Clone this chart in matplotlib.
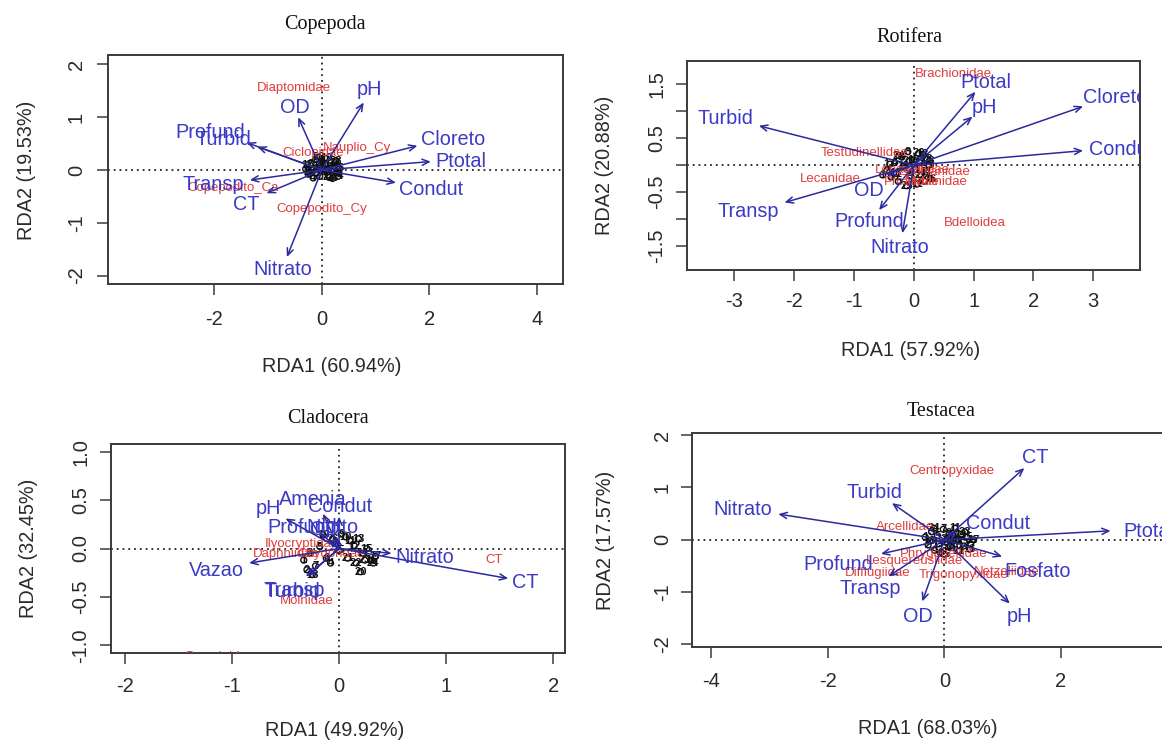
import matplotlib
matplotlib.use("Agg")
import matplotlib.pyplot as plt

W, H = 1162, 742
SANS = ["Liberation Sans", "DejaVu Sans"]
SERIF = ["Liberation Serif", "DejaVu Serif"]
plt.rcParams['font.family'] = SANS

BLUE_TXT = '#3a3ac6'
ARROW = '#2a2a9e'
RED = '#e03c3c'
AXC = '#3a3a3a'

# ---------------- Copepoda ----------------
cop_env = ["pH", "OD", "Profund", "Turbid", "Cloreto", "Ptotal", "Condut", "Transp", "CT", "Nitrato"]
cop_env_x = [0.78, -0.44, -1.40, -1.20, 1.78, 2.03, 1.38, -1.34, -1.03, -0.65]
cop_env_y = [1.28, 1.00, 0.52, 0.44, 0.46, 0.16, -0.24, -0.19, -0.44, -1.65]
cop_lab_x = [0.88, -0.51, -2.07, -1.83, 2.44, 2.58, 2.03, -2.03, -1.41, -0.73]
cop_lab_y = [1.52, 1.19, 0.72, 0.57, 0.58, 0.17, -0.37, -0.27, -0.65, -1.89]
cop_spp = ["Diaptomidae", "Ciclopidae", "Nauplio_Cy", "Copepodito_Ca", "Copepodito_Cy"]
cop_spp_x = [-0.51, -0.16, 0.66, -1.65, -0.01]
cop_spp_y = [1.56, 0.32, 0.41, -0.35, -0.73]
cop_site_x = [-0.30, -0.25, -0.20, -0.16, -0.12, -0.08, -0.04, 0.00, 0.04, 0.08, 0.12, 0.16, 0.20, 0.24,
              0.28, 0.31, -0.27, -0.18, -0.10, -0.02, 0.06, 0.14, 0.22, 0.30, -0.22, -0.06, 0.10, 0.26]
cop_site_y = [0.02, -0.08, 0.12, -0.15, 0.20, 0.05, -0.12, 0.16, -0.03, 0.22, -0.10, 0.08, -0.16, 0.14,
              -0.05, 0.04, 0.10, 0.00, -0.06, 0.08, 0.12, -0.14, 0.02, -0.12, -0.04, 0.24, 0.00, 0.18]
cop_xticks = [-2, 0, 2, 4]
cop_yticks = [-2, -1, 0, 1, 2]
cop_yticklabels = ["-2", "-1", "0", "1", "2"]

# ---------------- Rotifera ----------------
rot_env = ["Turbid", "Transp", "Ptotal", "pH", "Cloreto", "Condut", "OD", "Profund", "Nitrato"]
rot_env_x = [-2.59, -2.16, 1.03, 0.98, 2.83, 2.83, -0.46, -0.58, -0.19]
rot_env_y = [0.73, -0.69, 1.36, 0.90, 1.09, 0.27, -0.18, -0.83, -1.26]
rot_lab_x = [-3.14, -2.77, 1.20, 1.18, 3.36, 3.46, -0.75, -0.75, -0.23]
rot_lab_y = [0.86, -0.86, 1.53, 1.07, 1.26, 0.30, -0.46, -1.04, -1.52]
rot_spp = ["Brachionidae", "Testudinellidae", "Lecanidae", "Bdelloidea", "Lepadellidae",
           "Euchlanidae", "Proalidae", "Mytilinidae"]
rot_spp_x = [0.66, -0.83, -1.39, 1.02, -0.02, 0.34, -0.04, 0.38]
rot_spp_y = [1.69, 0.23, -0.26, -1.07, -0.09, -0.12, -0.31, -0.31]
rot_site_x = [-0.52, -0.45, -0.38, -0.32, -0.26, -0.20, -0.15, -0.10, -0.05, 0.00, 0.05, 0.10, 0.15, 0.20,
              0.25, 0.28, -0.40, -0.30, -0.18, -0.08, 0.02, 0.12, 0.22, -0.25, -0.12, 0.08, 0.18, 0.26]
rot_site_y = [-0.18, -0.10, -0.22, 0.05, -0.30, 0.15, -0.05, 0.25, -0.20, 0.10, -0.35, 0.05, 0.20, -0.12,
              0.00, -0.25, 0.02, -0.15, -0.02, 0.08, -0.08, -0.18, 0.12, 0.18, -0.38, 0.22, -0.30, 0.08]
rot_xticks = [-3, -2, -1, 0, 1, 2, 3]
rot_yticks = [-1.5, -1.0, -0.5, 0.0, 0.5, 1.0, 1.5]
rot_yticklabels = ["-1.5", "", "-0.5", "", "0.5", "", "1.5"]

# ---------------- Cladocera ----------------
cla_env = ["CT", "Nitrato", "Vazao", "pH", "Amenia", "Condut", "Profund", "OD", "Nitrito", "Turbid", "Transp"]
cla_env_x = [1.58, 0.49, -0.84, -0.50, -0.15, 0.00, -0.18, -0.10, -0.03, -0.31, -0.29]
cla_env_y = [-0.31, -0.05, -0.15, 0.31, 0.36, 0.33, 0.16, 0.10, 0.12, -0.29, -0.28]
cla_lab_x = [1.74, 0.80, -1.15, -0.66, -0.25, 0.01, -0.34, -0.13, -0.06, -0.44, -0.42]
cla_lab_y = [-0.35, -0.09, -0.23, 0.41, 0.51, 0.43, 0.22, 0.20, 0.22, -0.44, -0.43]
cla_spp = ["Ilyocryptidae", "Daphniidae", "Chydoridae", "Moinidae", "CT", "Bosminidae"]
cla_spp_x = [-0.35, -0.49, -0.07, -0.30, 1.45, -1.11]
cla_spp_y = [0.05, -0.06, -0.06, -0.54, -0.12, -1.125]
cla_site_x = [-0.33, -0.30, -0.27, -0.08, -0.18, -0.12, -0.22, -0.03, 0.02, 0.06, 0.10, 0.14, 0.18, 0.22,
              0.26, 0.30, 0.34, -0.25, -0.15, 0.20, 0.08, 0.16, 0.24, 0.32, 0.00, -0.06]
cla_site_y = [-0.12, -0.22, -0.05, -0.15, 0.02, -0.10, -0.18, 0.05, 0.15, 0.12, 0.08, 0.03, 0.10, -0.05,
              0.00, -0.12, -0.08, -0.27, 0.14, -0.24, -0.10, -0.15, -0.12, -0.15, -0.02, 0.10]
cla_xticks = [-2, -1, 0, 1, 2]
cla_yticks = [-1.0, -0.5, 0.0, 0.5, 1.0]
cla_yticklabels = ["-1.0", "-0.5", "0.0", "0.5", "1.0"]

# ---------------- Testacea ----------------
tes_env = ["CT", "Turbid", "Nitrato", "Condut", "Ptotal", "Fosfato", "pH", "OD", "Transp", "Profund"]
tes_env_x = [1.37, -0.90, -2.85, 0.22, 2.85, 0.99, 1.12, -0.38, -0.96, -1.09]
tes_env_y = [1.37, 0.70, 0.49, 0.17, 0.17, -0.32, -1.22, -1.18, -0.70, -0.27]
tes_lab_x = [1.55, -1.20, -3.46, 0.92, 3.50, 1.60, 1.29, -0.45, -1.28, -1.82]
tes_lab_y = [1.58, 0.90, 0.57, 0.31, 0.16, -0.61, -1.46, -1.46, -0.94, -0.48]
tes_spp = ["Centropyxidae", "Arcellidae", "Phryganellidae", "Lesquereusiidae", "Difflugiidae",
           "Trigonopyxidae", "Netzeliidae"]
tes_spp_x = [0.13, -0.67, -0.02, -0.51, -1.15, 0.33, 1.07]
tes_spp_y = [1.32, 0.24, -0.27, -0.41, -0.64, -0.68, -0.62]
tes_site_x = [-0.33, -0.28, -0.22, -0.17, -0.12, -0.07, -0.02, 0.03, 0.08, 0.13, 0.18, 0.23, 0.28, 0.33,
              0.38, 0.43, 0.50, -0.25, -0.10, 0.05, 0.15, 0.25, 0.35, -0.18, 0.00, 0.20, 0.45, 0.10]
tes_site_y = [0.05, -0.10, 0.15, -0.20, 0.08, -0.25, 0.20, -0.05, 0.12, -0.15, 0.22, -0.02, 0.10, -0.12,
              0.05, -0.18, 0.00, -0.02, -0.08, 0.02, 0.08, -0.22, 0.15, 0.22, -0.28, 0.00, -0.08, -0.12]
tes_xticks = [-4, -2, 0, 2]
tes_yticks = [-2, -1, 0, 1, 2]
tes_yticklabels = ["-2", "-1", "0", "1", "2"]

fig = plt.figure(figsize=(W / 100, H / 100), dpi=100)


def px_rect(x0, y0, x1, y1):
    return [x0 / W, 1 - y1 / H, (x1 - x0) / W, (y1 - y0) / H]


def ftext(x, y, s, **kw):
    fig.text(x / W, 1 - y / H, s, ha='center', va='center', **kw)


def panel(rect, xlim, ylim, xticks, yticks, yticklabels, env, ex, ey, lx, ly,
          spp, sx, sy, site_x, site_y, xpad, ypad):
    ax = fig.add_axes(rect)
    ax.set_xlim(*xlim)
    ax.set_ylim(*ylim)
    ax.axhline(0, color='#222222', ls=(0, (1, 2.2)), lw=1.3, zorder=1)
    ax.axvline(0, color='#222222', ls=(0, (1, 2.2)), lw=1.3, zorder=1)
    ax.scatter(site_x, site_y, s=18, facecolors='none', edgecolors='#111111', lw=1.0, zorder=2)
    for i, (x, y) in enumerate(zip(site_x, site_y)):
        ax.text(x, y, str(i + 1), fontsize=8, fontweight='bold', color='#111111',
                ha='center', va='center', zorder=2, clip_on=True)
    for name, x, y in zip(spp, sx, sy):
        ax.text(x, y, name, fontsize=9.5, color=RED, ha='center', va='center', zorder=3, clip_on=True)
    for x, y in zip(ex, ey):
        ax.annotate('', xy=(x, y), xytext=(0, 0),
                    arrowprops=dict(arrowstyle='->,head_length=0.5,head_width=0.22', color=ARROW,
                                    lw=1.1, shrinkA=0, shrinkB=0), zorder=4)
    for name, x, y in zip(env, lx, ly):
        ax.text(x, y, name, fontsize=14.3, color=BLUE_TXT, ha='center', va='center', zorder=5,
                clip_on=True)
    ax.set_xticks(xticks)
    ax.set_xticklabels([str(t) for t in xticks])
    ax.set_yticks(yticks)
    ax.set_yticklabels(yticklabels, rotation=90, va='center')
    ax.tick_params(direction='out', length=8, width=1.1, color=AXC, labelsize=14.5,
                   labelcolor='#2a2a2a')
    ax.tick_params(axis='x', pad=xpad)
    ax.tick_params(axis='y', pad=ypad)
    for sp in ax.spines.values():
        sp.set_color(AXC)
        sp.set_linewidth(1.4)
    return ax


# Copepoda
panel(px_rect(108, 55, 563, 284), (-3.98, 4.49), (-2.16, 2.18), cop_xticks, cop_yticks, cop_yticklabels,
      cop_env, cop_env_x, cop_env_y, cop_lab_x, cop_lab_y, cop_spp, cop_spp_x, cop_spp_y,
      cop_site_x, cop_site_y, 10.5, 8)
ftext(325, 25, "Copepoda", fontsize=14.5, family=SERIF, color='#111111')
ftext(332, 367, "RDA1 (60.94%)", fontsize=14.3, color='#2a2a2a')
ftext(26, 170, "RDA2 (19.53%)", fontsize=14.3, color='#2a2a2a', rotation=90)

# Rotifera
panel(px_rect(687, 61, 1140, 270), (-3.79, 3.78), (-1.94, 1.93), rot_xticks, rot_yticks, rot_yticklabels,
      rot_env, rot_env_x, rot_env_y, rot_lab_x, rot_lab_y, rot_spp, rot_spp_x, rot_spp_y,
      rot_site_x, rot_site_y, 8, 7)
ftext(909, 37, "Rotifera", fontsize=14.5, family=SERIF, color='#111111')
ftext(911, 350, "RDA1 (57.92%)", fontsize=14.3, color='#2a2a2a')
ftext(604, 165, "RDA2 (20.88%)", fontsize=14.3, color='#2a2a2a', rotation=90)

# Cladocera
panel(px_rect(111, 444, 565, 653), (-2.13, 2.11), (-1.08, 1.08), cla_xticks, cla_yticks, cla_yticklabels,
      cla_env, cla_env_x, cla_env_y, cla_lab_x, cla_lab_y, cla_spp, cla_spp_x, cla_spp_y,
      cla_site_x, cla_site_y, 9, 7)
ftext(328, 418, "Cladocera", fontsize=14.5, family=SERIF, color='#111111')
ftext(335, 730, "RDA1 (49.92%)", fontsize=14.3, color='#2a2a2a')
ftext(28, 548, "RDA2 (32.45%)", fontsize=14.3, color='#2a2a2a', rotation=90)

# Testacea
panel(px_rect(692, 433, 1166, 647), (-4.33, 3.80), (-2.05, 2.04), tes_xticks, tes_yticks, tes_yticklabels,
      tes_env, tes_env_x, tes_env_y, tes_lab_x, tes_lab_y, tes_spp, tes_spp_x, tes_spp_y,
      tes_site_x, tes_site_y, 10, 6.5)
ftext(941, 412, "Testacea", fontsize=14.5, family=SERIF, color='#111111')
ftext(928, 728, "RDA1 (68.03%)", fontsize=14.3, color='#2a2a2a')
ftext(606, 540, "RDA2 (17.57%)", fontsize=14.3, color='#2a2a2a', rotation=90)

fig.savefig("out.png", dpi=100, facecolor='white')
